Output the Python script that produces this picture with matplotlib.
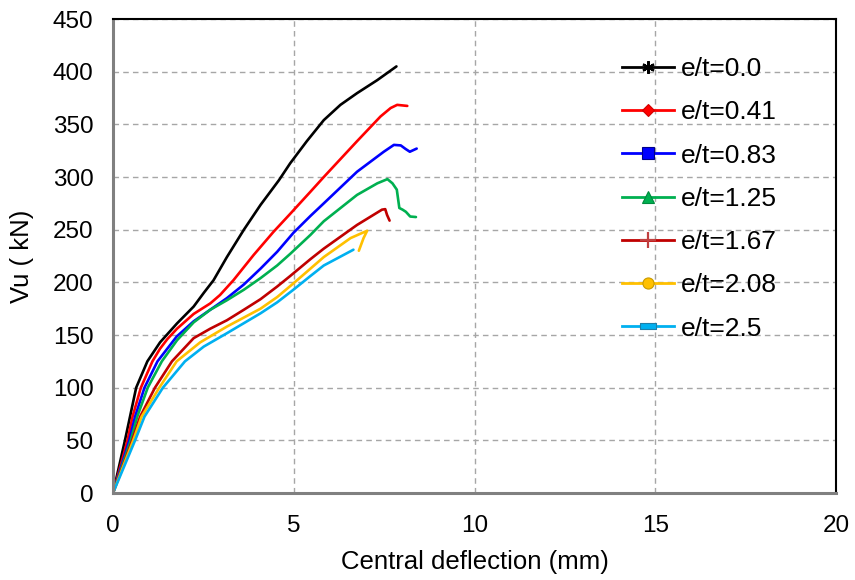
import numpy as np
import matplotlib
matplotlib.use('Agg')
import matplotlib.pyplot as plt
from matplotlib.path import Path

plt.rcParams['font.family'] = ['Liberation Sans', 'DejaVu Sans']

# central deflection (mm) vs load Vu (kN) for each eccentricity
labels = ['e/t=0.0', 'e/t=0.41', 'e/t=0.83', 'e/t=1.25', 'e/t=1.67', 'e/t=2.08', 'e/t=2.5']

x_00 = [0, 0.33, 0.47, 0.64, 0.95, 1.30, 1.77, 2.23, 2.51, 2.78, 3.15, 3.62, 4.08, 4.59,
        4.90, 5.36, 5.83, 6.29, 6.75, 7.31, 7.84]
y_00 = [0, 50, 72.5, 100, 125, 143, 161, 177, 190, 202, 224, 250, 273.5, 297,
        313, 334, 354, 368.5, 379.6, 392, 405]

x_041 = [0, 0.40, 0.54, 0.77, 1.09, 1.30, 1.50, 1.77, 2.23, 2.69, 2.96, 3.33, 3.89, 4.44,
         4.90, 5.46, 5.83, 6.75, 7.40, 7.68, 7.86, 8.14]
y_041 = [0, 50, 72.5, 100, 125, 137, 146, 156, 170, 180, 188, 202, 226, 248,
         265, 286, 300, 334, 357.5, 365.5, 368.5, 367.5]

x_083 = [0, 0.45, 0.61, 0.87, 1.23, 1.76, 2.23, 2.69, 3.15, 3.62, 4.08, 4.54, 4.99, 5.46,
         5.83, 6.75, 7.49, 7.77, 7.96, 8.09, 8.21, 8.40]
y_083 = [0, 50, 72.5, 100, 125, 148.5, 163, 174, 185, 198, 213, 229, 247, 263,
         275, 305, 324, 330.5, 330, 326.7, 324, 327]

x_125 = [0, 0.49, 0.67, 0.96, 1.35, 1.77, 2.23, 2.69, 3.15, 3.62, 4.08, 4.54, 4.90, 5.46,
         5.83, 6.75, 7.31, 7.59, 7.73, 7.85, 7.92, 8.01, 8.10, 8.22, 8.38]
y_125 = [0, 50, 72.5, 100, 125, 145, 162, 174, 183, 193, 204, 216, 227, 245,
         258, 283, 294, 298, 294, 288, 270.6, 269, 267, 262.5, 262]

x_167 = [0, 0.53, 0.75, 1.16, 1.63, 2.23, 2.69, 3.15, 3.62, 4.08, 4.54, 4.90, 5.46, 5.83,
         6.75, 7.44, 7.53, 7.58, 7.65]
y_167 = [0, 50, 72.5, 100, 125, 147, 156, 164, 174, 184, 196, 206, 222, 232,
         254.5, 269, 269.5, 264, 258.6]

x_208 = [0, 0.56, 0.79, 1.28, 1.76, 2.41, 3.15, 4.08, 4.54, 4.99, 5.46, 5.83, 6.57, 7.03,
         6.93, 6.80]
y_208 = [0, 50, 72.5, 100, 125, 143, 158, 175, 186, 199, 213, 224, 242, 249,
         242, 230]

x_25 = [0, 0.61, 0.87, 1.38, 1.99, 2.51, 3.15, 4.08, 4.54, 4.99, 5.46, 5.83, 6.65]
y_25 = [0, 50, 72.5, 100, 125, 139, 151.7, 170.6, 181, 193, 206, 216, 231]

xs = [x_00, x_041, x_083, x_125, x_167, x_208, x_25]
ys = [y_00, y_041, y_083, y_125, y_167, y_208, y_25]

colors = ['#000000', '#FF0000', '#0000FF', '#00B050', '#C00000', '#FFC000', '#00B0F0']
edges = ['#000000', '#D00000', '#00008B', '#008A3E', '#C04040', '#C89A00', '#1F7FA8']
# flat bar marker for the last series
flat = Path([(-1, -0.4), (1, -0.4), (1, 0.4), (-1, 0.4), (-1, -0.4)],
            [Path.MOVETO, Path.LINETO, Path.LINETO, Path.LINETO, Path.CLOSEPOLY])
markers = [(6, 2, 0), 'D', 's', '^', '+', 'o', flat]
msizes = [9, 6.5, 8, 8, 12, 8, 11]

fig = plt.figure(figsize=(8.55, 5.8), dpi=100)
ax = fig.add_axes([0.1322, 0.15, 0.8456, 0.8172])

handles = []
for x, y, c, ec, m, ms, lab in zip(xs, ys, colors, edges, markers, msizes, labels):
    ax.plot(x, y, color=c, lw=1.9, solid_joinstyle='round', solid_capstyle='round')
    # legend proxy with marker
    thin = isinstance(m, tuple) or m == '+'
    h, = ax.plot([], [], color=c, lw=2, marker=m, ms=ms,
                 markeredgecolor=ec, markerfacecolor=c,
                 markeredgewidth=1.6 if thin else 0.8, label=lab)
    handles.append(h)

ax.set_xlim(0, 20)
ax.set_ylim(0, 450)
ax.set_xticks(np.arange(0, 21, 5))
ax.set_yticks(np.arange(0, 451, 50))
ax.tick_params(length=0, labelsize=17.5)
ax.tick_params(axis='x', pad=16)
ax.tick_params(axis='y', pad=14)

ax.grid(True, color='#A6A6A6', linestyle=(0, (4, 3)), linewidth=1)
ax.set_axisbelow(True)

for s in ['left', 'bottom']:
    ax.spines[s].set_color('#808080')
    ax.spines[s].set_linewidth(2.2)
for s in ['top', 'right']:
    ax.spines[s].set_color('#000000')
    ax.spines[s].set_linewidth(1.5)

ax.set_xlabel('Central deflection (mm)', fontsize=18.5)
ax.set_ylabel('Vu ( kN)', fontsize=18.5)
ax.xaxis.set_label_coords(0.5, -0.12)
ax.yaxis.set_label_coords(-0.11, 0.5)

leg = ax.legend(handles=handles, loc='upper left', bbox_to_anchor=(0.69, 0.942),
                frameon=False, fontsize=19, handlelength=1.95, handletextpad=0.27,
                labelspacing=0.73, borderaxespad=0)

fig.savefig('out.png', dpi=100)
